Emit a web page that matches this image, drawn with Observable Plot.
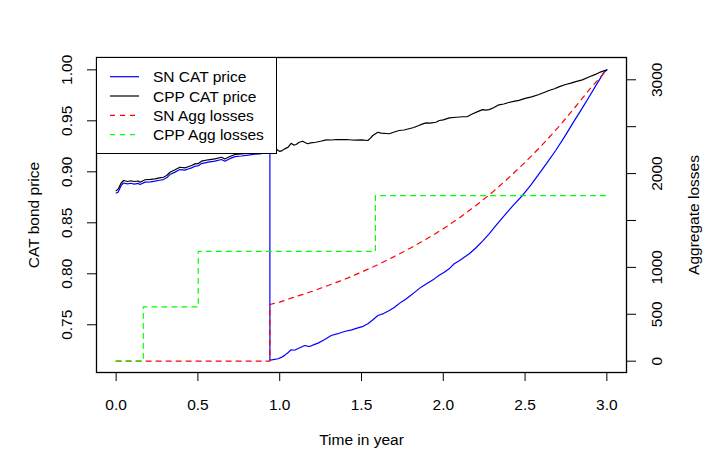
<!DOCTYPE html>
<html><head><meta charset="utf-8">
<script src="https://cdn.jsdelivr.net/npm/d3@7"></script>
<script src="https://cdn.jsdelivr.net/npm/@observablehq/plot@0.6"></script>
<style>
body{margin:0;background:#fff;}
#wrap{position:relative;width:722px;height:469px;font-family:"Liberation Sans",Arial,Helvetica,sans-serif;}
#legend{position:absolute;left:96px;top:57px;}
</style></head><body><div id="wrap"></div>
<script>
// ---- data ----
const cppTime = [0,0.012,0.03,0.045,0.07,0.09,0.11,0.136,0.146,0.177,0.21,0.238,0.265,0.289,0.309,0.329,0.36,0.39,0.421,0.44,0.461,0.482,0.5,0.522,0.563,0.604,0.644,0.665,0.695,0.726,0.766,0.807,0.848,0.88,0.909,0.94,0.96,0.985,1.0,1.015,1.03,1.05,1.07,1.085,1.1,1.12,1.14,1.17,1.19,1.22,1.25,1.285,1.315,1.346,1.38,1.407,1.44,1.468,1.5,1.539,1.555,1.569,1.6,1.62,1.67,1.7,1.73,1.76,1.79,1.82,1.85,1.875,1.895,1.92,1.955,1.976,2.0,2.037,2.08,2.12,2.148,2.18,2.21,2.24,2.26,2.28,2.31,2.34,2.37,2.4,2.43,2.463,2.5,2.54,2.585,2.62,2.646,2.68,2.71,2.748,2.78,2.81,2.85,2.89,2.93,2.96,3.0];
const cppPrice = [0.8815,0.8830,0.8888,0.8915,0.8905,0.8912,0.8905,0.8910,0.8898,0.8922,0.8925,0.8931,0.8940,0.8947,0.8964,0.8996,0.9020,0.9045,0.9039,0.9050,0.9062,0.9078,0.9080,0.9104,0.9118,0.9127,0.9143,0.9125,0.9150,0.9170,0.9176,0.9183,0.9192,0.9195,0.9209,0.9216,0.9210,0.9216,0.9200,0.9208,0.9225,0.9240,0.9280,0.9262,0.9268,0.9290,0.9300,0.9275,0.9283,0.9290,0.9300,0.9314,0.9312,0.9317,0.9315,0.9317,0.9312,0.9310,0.9313,0.9307,0.9330,0.9356,0.9388,0.9380,0.9373,0.9390,0.9405,0.9410,0.9422,0.9435,0.9454,0.9470,0.9480,0.9478,0.9486,0.9503,0.9510,0.9529,0.9535,0.9540,0.9542,0.9569,0.9590,0.9610,0.9605,0.9610,0.9630,0.9657,0.9665,0.9680,0.9690,0.9700,0.9720,0.9735,0.9758,0.9780,0.9797,0.9815,0.9835,0.9856,0.9870,0.9885,0.9902,0.9930,0.9955,0.9978,1.0];

const snTime = [0,0.012,0.03,0.045,0.07,0.09,0.11,0.136,0.146,0.177,0.21,0.238,0.265,0.289,0.309,0.329,0.36,0.39,0.421,0.44,0.461,0.482,0.5,0.522,0.563,0.604,0.644,0.665,0.695,0.726,0.766,0.807,0.848,0.88,0.909,0.94,0.94,0.96,0.99,1.01,1.03,1.05,1.07,1.09,1.11,1.13,1.152,1.17,1.183,1.21,1.234,1.27,1.315,1.35,1.396,1.44,1.478,1.51,1.539,1.57,1.6,1.635,1.67,1.7,1.742,1.77,1.8,1.83,1.864,1.9,1.945,1.975,2.006,2.04,2.067,2.1,2.128,2.159,2.2,2.24,2.28,2.33,2.382,2.43,2.484,2.535,2.585,2.635,2.687,2.74,2.789,2.84,2.89,2.94,2.98,3.0];
const snPrice = [0.8792,0.8800,0.8864,0.8890,0.8882,0.8888,0.8880,0.8886,0.8875,0.8899,0.8902,0.8908,0.8917,0.8924,0.8941,0.8973,0.8997,0.9022,0.9016,0.9027,0.9039,0.9055,0.9057,0.9081,0.9095,0.9105,0.9121,0.9103,0.9129,0.9149,0.9155,0.9163,0.9172,0.9176,0.9190,0.9198,0.7152,0.7158,0.7167,0.7180,0.7200,0.7225,0.7255,0.7250,0.7265,0.7280,0.7297,0.7290,0.7287,0.7305,0.7320,0.7350,0.7395,0.7410,0.7434,0.7450,0.7470,0.7485,0.7510,0.7550,0.7591,0.7610,0.7640,0.7670,0.7722,0.7750,0.7787,0.7825,0.7869,0.7905,0.7950,0.7985,0.8016,0.8055,0.8098,0.8130,0.8163,0.8196,0.8255,0.8320,0.8392,0.8490,0.8588,0.8675,0.8768,0.8870,0.8980,0.9090,0.9209,0.9340,0.9470,0.9600,0.9731,0.9865,0.9970,1.0];

const snLossTime = [0,0.94,0.94,1.0,1.1,1.2,1.3,1.4,1.5,1.6,1.7,1.8,1.9,2.0,2.1,2.2,2.3,2.4,2.5,2.6,2.7,2.8,2.9,3.0];
const snLoss     = [0,0,604,630,690,745,810,875,950,1028,1115,1207,1305,1412,1530,1660,1800,1955,2120,2297,2487,2695,2910,3106];

const cppLossTime = [0,0.166,0.502,1.585,3.0];
const cppLoss     = [0,578,1171,1765,1765];

const xTicks = [0,0.5,1,1.5,2,2.5,3];
const priceTicks = [0.75,0.80,0.85,0.90,0.95,1.00];
const lossTicks = [0,500,1000,1500,2000,2500,3000];
const lossTickLabels = ["0","500","1000","","2000","","3000"];

const legendLabels = ["SN CAT price","CPP CAT price","SN Agg losses","CPP Agg losses"];
const legendColors = ["#0000ff","#000000","#ff0000","#00ff00"];
const legendDash = [null,null,"5,5","5,5"];

// ---- secondary axis mapping: losses drawn on the price scale ----
const P0 = 0.7143, PMAX = 1.0, LMAX = 3106;
const toPrice = L => P0 + L * (PMAX - P0) / LMAX;

const cpp = cppTime.map((t,i) => ({t, v: cppPrice[i]}));
const sn = snTime.map((t,i) => ({t, v: snPrice[i]}));
const snL = snLossTime.map((t,i) => ({t, v: toPrice(snLoss[i])}));
const cppL = cppLossTime.map((t,i) => ({t, v: toPrice(cppLoss[i])}));

const lossTickPos = lossTicks.map(toPrice);
const lossFmt = d => { const i = lossTickPos.findIndex(p => Math.abs(p - d) < 1e-9); return i < 0 ? "" : lossTickLabels[i]; };

const font = "Liberation Sans, Arial, Helvetica, sans-serif";
const FS = 15.5;
const chart = Plot.plot({
  width: 722, height: 469,
  marginLeft: 96, marginRight: 96, marginTop: 57, marginBottom: 97,
  x: {domain: [-0.12, 3.12]},
  y: {domain: [0.7032, 1.0121]},
  style: {fontFamily: font, fontSize: FS + "px", background: "white", color: "black", overflow: "visible"},
  marks: [
    Plot.axisX({ticks: xTicks, tickFormat: d => d.toFixed(1), tickSize: 9, tickPadding: 17, label: null}),
    Plot.axisY({ticks: priceTicks, tickFormat: d => d.toFixed(2), tickRotate: -90, tickSize: 9, tickPadding: 16, label: null}),
    Plot.axisY({anchor: "right", ticks: lossTickPos, tickFormat: lossFmt, tickRotate: -90, tickSize: 9, tickPadding: 26, label: null}),
    Plot.line(sn, {x: "t", y: "v", stroke: "#0000ff", strokeWidth: 1.2}),
    Plot.line(cpp, {x: "t", y: "v", stroke: "#000000", strokeWidth: 1.2}),
    Plot.line(snL, {x: "t", y: "v", stroke: "#ff0000", strokeWidth: 1.2, strokeDasharray: "5,5"}),
    Plot.line(cppL, {x: "t", y: "v", stroke: "#00ff00", strokeWidth: 1.2, strokeDasharray: "5,5", curve: "step-after"}),
    Plot.frame({stroke: "black", strokeWidth: 1.3}),
    Plot.text(["Time in year"], {frameAnchor: "bottom", textAnchor: "middle", lineAnchor: "bottom", dy: 72, fontSize: FS}),
    Plot.text(["CAT bond price"], {frameAnchor: "left", textAnchor: "middle", lineAnchor: "bottom", rotate: -90, dx: -58, fontSize: FS}),
    Plot.text(["Aggregate losses"], {frameAnchor: "right", textAnchor: "middle", lineAnchor: "bottom", rotate: -90, dx: 72, fontSize: FS})
  ]
});
const wrap = document.getElementById("wrap");
wrap.appendChild(chart);

// ---- legend overlay ----
const lg = d3.select(wrap).append("svg").attr("id","legend").attr("width",181).attr("height",97)
  .style("font-family", font).style("font-size", FS + "px");
lg.append("rect").attr("x",0.5).attr("y",0.5).attr("width",180).attr("height",96).attr("fill","white").attr("stroke","black").attr("stroke-width",1);
legendLabels.forEach((lab,i) => {
  const cy = 19.7 + i*19.3;
  const ln = lg.append("line").attr("x1",14).attr("x2",43).attr("y1",cy).attr("y2",cy).attr("stroke",legendColors[i]).attr("stroke-width",1.2);
  if (legendDash[i]) ln.attr("stroke-dasharray", legendDash[i]);
  lg.append("text").attr("x",57).attr("y",cy+5.5).attr("fill","black").text(lab);
});
</script></body></html>
